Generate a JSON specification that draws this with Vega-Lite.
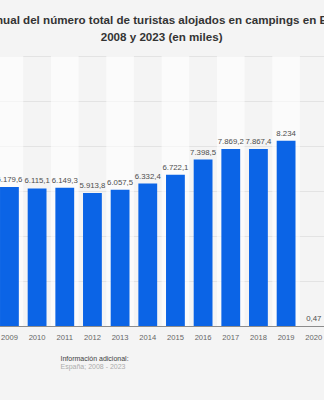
{
  "$schema": "https://vega.github.io/schema/vega-lite/v6.json",
  "width": 332,
  "height": 270,
  "autosize": {"type": "none"},
  "padding": {"left": -4.4, "right": -3.6, "top": 56, "bottom": 74},
  "background": "#f4f4f4",
  "title": {
    "text": ["Evolución anual del número total de turistas alojados en campings en España entre", "2008 y 2023 (en miles)"],
    "font": "Liberation Sans",
    "fontSize": 11.6,
    "fontWeight": "bold",
    "color": "#333333",
    "lineHeight": 17,
    "anchor": "middle",
    "frame": "group",
    "offset": 12
  },
  "config": {
    "view": {"stroke": null},
    "locale": {"number": {"decimal": ",", "thousands": ".", "grouping": [3], "currency": ["", " €"]}}
  },
  "data": {
    "values": [
      {"year": 2009, "value": 6179.6},
      {"year": 2010, "value": 6115.1},
      {"year": 2011, "value": 6149.3},
      {"year": 2012, "value": 5913.8},
      {"year": 2013, "value": 6057.5},
      {"year": 2014, "value": 6332.4},
      {"year": 2015, "value": 6722.1},
      {"year": 2016, "value": 7398.5},
      {"year": 2017, "value": 7869.2},
      {"year": 2018, "value": 7867.4},
      {"year": 2019, "value": 8234},
      {"year": 2020, "value": 0.47}
    ]
  },
  "resolve": {"scale": {"x": "independent"}, "axis": {"x": "independent"}},
  "layer": [
    {
      "mark": {"type": "bar", "fill": "#ffffff"},
      "encoding": {
        "x": {"field": "year", "type": "ordinal", "scale": {"paddingInner": 0, "paddingOuter": 0}, "axis": null},
        "y": {
          "datum": 12000,
          "type": "quantitative",
          "scale": {"domain": [0, 12000], "nice": false},
          "axis": {
            "values": [0, 2000, 4000, 6000, 8000, 10000, 12000],
            "labels": false, "ticks": false, "domain": false,
            "grid": true, "gridColor": "#e3e3e3", "gridWidth": 1,
            "title": "España; 2008 - 2023",
            "titleAngle": 0, "titleX": 64.4, "titleY": 312.5,
            "titleAlign": "left", "titleBaseline": "alphabetic",
            "titleFont": "Liberation Sans", "titleFontSize": 7, "titleFontWeight": "normal", "titleColor": "#acacac"
          }
        },
        "fillOpacity": {"condition": {"test": "datum.year % 2 == 1", "value": 0.6}, "value": 0}
      }
    },
    {
      "encoding": {
        "x": {
          "field": "year", "type": "ordinal",
          "scale": {"paddingInner": 0.32, "paddingOuter": 0.16},
          "axis": {
            "labelAngle": 0, "labelFont": "Liberation Sans", "labelFontSize": 7.6, "labelColor": "#666666", "labelPadding": 7,
            "ticks": false, "domainColor": "#8c8c8c", "domainWidth": 1, "grid": false,
            "title": "Información adicional:",
            "titleX": 64.4, "titleY": 34, "titleAlign": "left", "titleBaseline": "alphabetic", "titleAnchor": "start",
            "titleFont": "Liberation Sans", "titleFontSize": 7, "titleFontWeight": "normal", "titleColor": "#404040"
          }
        },
        "y": {
          "field": "value",
          "type": "quantitative",
          "scale": {"domain": [0, 12000], "nice": false},
          "axis": {
            "values": [0, 2000, 4000, 6000, 8000, 10000, 12000],
            "labels": false, "ticks": false, "domain": false,
            "grid": true, "gridColor": "#e3e3e3", "gridWidth": 1,
            "title": "España; 2008 - 2023",
            "titleAngle": 0, "titleX": 64.4, "titleY": 312.5,
            "titleAlign": "left", "titleBaseline": "alphabetic",
            "titleFont": "Liberation Sans", "titleFontSize": 7, "titleFontWeight": "normal", "titleColor": "#acacac"
          }
        }
      },
      "layer": [
        {"mark": {"type": "bar", "color": "#0b64e6"}},
        {
          "mark": {"type": "text", "dy": -5, "baseline": "alphabetic", "font": "Liberation Sans", "fontSize": 7.8, "color": "#4d4d4d"},
          "encoding": {"text": {"field": "value", "type": "quantitative", "format": ","}}
        }
      ]
    }
  ]
}
